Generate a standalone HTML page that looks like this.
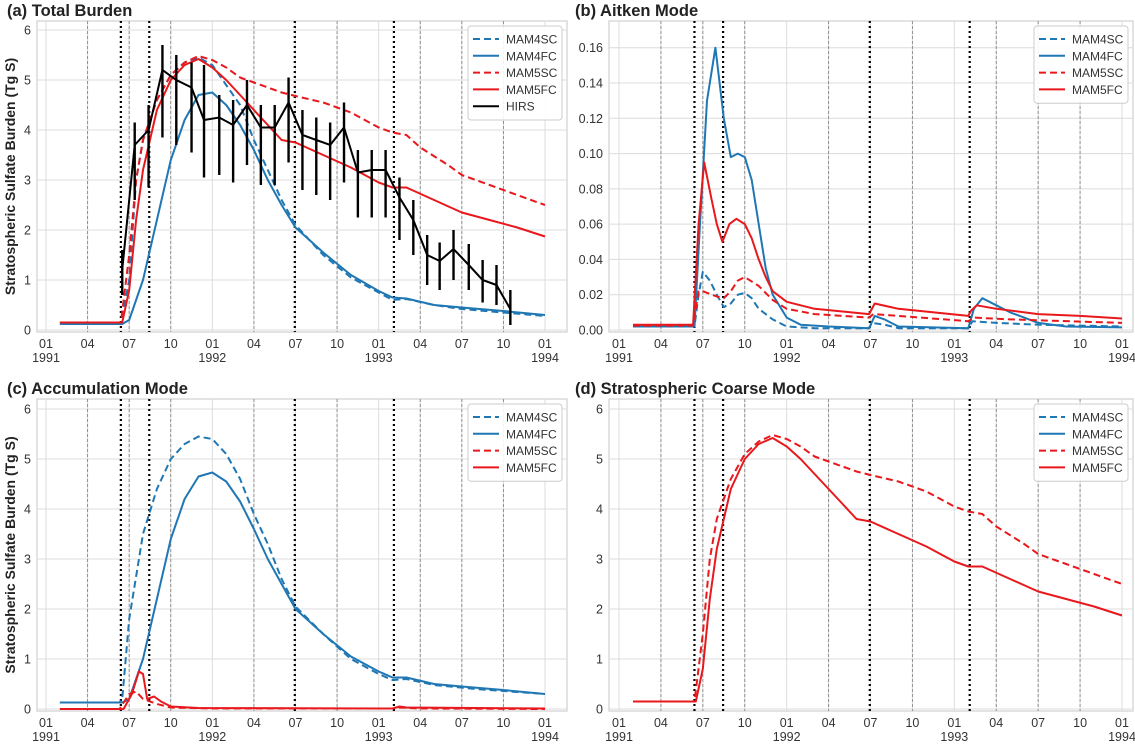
<!DOCTYPE html>
<html><head><meta charset="utf-8"><style>
body{margin:0;background:#fff;font-family:"Liberation Sans",sans-serif}
svg text{font-family:"Liberation Sans",sans-serif}
</style></head><body>
<svg id="fig" width="1135" height="741" viewBox="0 0 1135 741" xmlns="http://www.w3.org/2000/svg"></svg>
<script>
// ---- data (months since Jan 1991) ----
const tickMonths=[0,3,6,9,12,15,18,21,24,27,30,33,36];
const tickLabels=["01","04","07","10","01","04","07","10","01","04","07","10","01"];
const yearLabels={0:"1991",12:"1992",24:"1993",36:"1994"};
const dashedMonths=[3,6,9,15,21,27,30,33];
const dottedMonths=[5.4,7.45,17.95,25.1];

const a4scT=[1,5.4,6.0,6.5,7,8,9,10,11,12,13,14,15,16,17,18,19,20,22,24,25,26,28,30,33,36];
const a4scV=[0.15,0.15,1.0,3.0,3.8,4.6,5.1,5.35,5.45,5.3,4.9,4.5,3.8,3.2,2.6,2.1,1.8,1.5,1.05,0.75,0.6,0.62,0.5,0.42,0.35,0.28];
const a4fcT=[1,5.5,6,7,8,9,10,11,12,13,14,15,16,17,18,19,20,22,24,25,26,28,30,33,36];
const a4fcV=[0.12,0.12,0.2,1.0,2.2,3.4,4.2,4.7,4.75,4.5,4.1,3.6,3.0,2.5,2.05,1.8,1.55,1.1,0.78,0.65,0.63,0.5,0.45,0.38,0.3];
const a5scT=[1,5.4,6,6.5,7,8,9,10,11,12,13,14,15,16,17,18,20,22,24,25,26,27,29,30,32,34,36];
const a5scV=[0.15,0.15,1.5,3.0,3.8,4.6,5.1,5.35,5.48,5.4,5.25,5.05,4.95,4.85,4.75,4.68,4.55,4.35,4.05,3.95,3.9,3.65,3.3,3.1,2.9,2.7,2.5];
const a5fcT=[1,5.5,6,6.5,7,8,9,10,11,12,13,14,15,16,17,18,20,22,24,25,26,28,30,32,34,36];
const a5fcV=[0.15,0.15,0.8,2.2,3.2,4.4,5.0,5.3,5.42,5.25,5.0,4.7,4.4,4.1,3.8,3.75,3.5,3.25,2.95,2.85,2.85,2.6,2.35,2.2,2.05,1.87];
const hirsT=[5.5,6.4,7.4,8.4,9.4,10.5,11.4,12.5,13.5,14.5,15.5,16.5,17.5,18.5,19.5,20.5,21.5,22.5,23.5,24.5,25.5,26.5,27.5,28.4,29.4,30.5,31.5,32.5,33.5];
const hirsV=[1.2,3.7,4.0,5.2,5.0,4.85,4.2,4.25,4.1,4.5,4.05,4.05,4.55,3.9,3.8,3.7,4.05,3.15,3.2,3.2,2.65,2.2,1.5,1.38,1.62,1.3,1.0,0.9,0.42];
const hirsLo=[0.7,2.6,2.85,3.85,3.7,3.55,3.05,3.1,2.95,3.3,2.9,2.9,3.35,2.8,2.7,2.6,2.95,2.25,2.25,2.25,1.8,1.5,0.9,0.8,1.0,0.8,0.55,0.5,0.1];
const hirsHi=[1.6,4.15,4.5,5.7,5.5,5.35,5.3,4.7,4.6,5.0,4.5,4.5,5.05,4.4,4.25,4.15,4.55,3.6,3.6,3.6,3.05,2.6,1.9,1.75,2.0,1.72,1.4,1.3,0.8];

const b4scT=[1,5.4,5.7,6.0,6.5,7,7.5,8,8.5,9,9.5,10,11,12,14,17.9,18.1,19,20,25.0,25.3,27,30,36];
const b4scV=[0.002,0.002,0.02,0.033,0.028,0.02,0.013,0.015,0.02,0.021,0.018,0.012,0.006,0.002,0.001,0.001,0.004,0.003,0.001,0.001,0.005,0.004,0.003,0.002];
const b4fcT=[1,5.4,5.8,6.3,6.9,7.5,8,8.5,9,9.5,10,10.5,11,12,13,15,17.9,18.3,19,20,25,25.4,26,27,28,29,30,32,36];
const b4fcV=[0.002,0.002,0.06,0.13,0.16,0.12,0.098,0.1,0.098,0.085,0.06,0.035,0.02,0.007,0.003,0.002,0.001,0.008,0.006,0.002,0.001,0.012,0.018,0.014,0.01,0.007,0.004,0.002,0.0015];
const b5scT=[1,5.3,5.7,6,7,7.5,8,8.5,9,10,11,12,14,17.9,18.2,20,25,25.4,28,36];
const b5scV=[0.0025,0.0025,0.022,0.022,0.019,0.018,0.022,0.028,0.03,0.025,0.017,0.012,0.009,0.007,0.009,0.008,0.005,0.007,0.006,0.004];
const b5fcT=[1,5.3,5.7,6.1,6.6,7.0,7.4,7.9,8.4,9,9.5,10,10.5,11,12,14,17.9,18.3,20,25,25.2,25.6,27,30,33,36];
const b5fcV=[0.003,0.003,0.06,0.095,0.075,0.06,0.05,0.06,0.063,0.06,0.052,0.04,0.03,0.022,0.016,0.012,0.009,0.015,0.012,0.008,0.011,0.014,0.012,0.009,0.008,0.0065];

const c4scT=[1,5.3,5.5,6,7,8,9,10,11,12,13,14,15,16,17,18,20,22,24,25,26,28,31,36];
const c4scV=[0.13,0.13,0.2,1.8,3.5,4.4,5.0,5.3,5.45,5.4,5.1,4.6,3.9,3.3,2.6,2.05,1.5,1.0,0.7,0.58,0.6,0.48,0.4,0.3];
const c4fcT=[1,5.5,6,7,8,9,10,11,12,13,14,15,16,17,18,19,20,22,24,25,26,28,30,33,36];
const c4fcV=[0.13,0.13,0.2,1.0,2.2,3.4,4.2,4.65,4.73,4.55,4.15,3.6,3.0,2.5,2.0,1.75,1.5,1.05,0.75,0.63,0.63,0.5,0.45,0.38,0.3];
const c5scT=[1,5.3,6,6.5,7,8,9,12,25,25.5,27,36];
const c5scV=[0,0,0.3,0.35,0.2,0.1,0.03,0.01,0.01,0.03,0.01,0];
const c5fcT=[1,5.6,6.2,6.7,7,7.3,7.8,8.3,9,11,25,25.5,26,36];
const c5fcV=[0,0,0.3,0.75,0.7,0.2,0.25,0.15,0.05,0.02,0.01,0.05,0.03,0.01];
const legendNames=["MAM4SC","MAM4FC","MAM5SC","MAM5FC"];

const BLUE="#1f77b4", RED="#e8181c";
const svg=document.getElementById('fig');
const NS="http://www.w3.org/2000/svg";
function mk(tag,attrs,parent){const e=document.createElementNS(NS,tag);for(const k in attrs)e.setAttribute(k,attrs[k]);(parent||svg).appendChild(e);return e;}

function panel(P){
  const g=mk('g',{});
  
  
  const X=m=>P.x0+m*(P.x1-P.x0)/36;
  const Yv=v=>P.y0-(v/P.ymaxTick)*(P.y0-P.yt);
  const fr=mk('rect',{x:P.L,y:P.T,width:P.R-P.L,height:P.B-P.T,fill:'#fff',stroke:'#d0d0d0','stroke-width':1.2},g);
  
  P.yticks.forEach((v,i)=>{
    const y=Yv(v);
    mk('line',{x1:P.L,x2:P.R,y1:y,y2:y,stroke:'#dcdcdc','stroke-width':1},g);
    const t=mk('text',{x:P.L-6,y:y+4.5,'text-anchor':'end','font-size':12.5,fill:'#333'},g);
    t.textContent=P.ylabels[i];
    
  });
  tickMonths.forEach((m,i)=>{
    const x=X(m);
    mk('line',{x1:x,x2:x,y1:P.T,y2:P.B,stroke:'#dcdcdc','stroke-width':1},g);
    const t=mk('text',{x:x,y:P.B+16,'text-anchor':'middle','font-size':12.5,fill:'#333'},g);
    t.textContent=tickLabels[i];
    
    if(yearLabels[m]){const y=mk('text',{x:x,y:P.B+30,'text-anchor':'middle','font-size':12.5,fill:'#333'},g);y.textContent=yearLabels[m];
      }
  });
  dashedMonths.forEach(m=>mk('line',{x1:X(m),x2:X(m),y1:P.T,y2:P.B,stroke:'#888','stroke-width':0.9,'stroke-dasharray':'3,2'},g));
  dottedMonths.forEach(m=>{const l=mk('line',{x1:X(m),x2:X(m),y1:P.T,y2:P.B,stroke:'#000','stroke-width':2.2,'stroke-dasharray':'2,3'},g);
    });
  P.series.forEach(s=>{
    const d=s.t.map((m,i)=>(i?'L':'M')+X(m).toFixed(1)+','+Yv(s.v[i]).toFixed(1)).join('');
    const p=mk('path',{d:d,fill:'none',stroke:s.c,'stroke-width':2,'stroke-dasharray':s.dash?'7,4':'none','stroke-linejoin':'round'},g);
    
  });
  if(P.hirs){
    hirsT.forEach((m,i)=>{const l=mk('line',{x1:X(m),x2:X(m),y1:Yv(hirsLo[i]),y2:Yv(hirsHi[i]),stroke:'#000','stroke-width':2.4},g);
      });
    const d=hirsT.map((m,i)=>(i?'L':'M')+X(m).toFixed(1)+','+Yv(hirsV[i]).toFixed(1)).join('');
    const p=mk('path',{d:d,fill:'none',stroke:'#000','stroke-width':2},g);
    
  }
  const ti=mk('text',{x:P.L-30+P.tdx,y:P.T-5,'font-size':16.5,'font-weight':'bold',fill:'#222'},g);
  ti.textContent=P.title;
  if(P.ylab){const yl=mk('text',{x:0,y:0,transform:`translate(15,${(P.T+P.B)/2}) rotate(-90)`,'text-anchor':'middle','font-size':14,'font-weight':'bold',fill:'#222'},g);
    yl.textContent='Stratospheric Sulfate Burden (Tg S)';}
  const names=legendNames.concat(P.hirs?['HIRS']:[]);
  const cols=[BLUE,BLUE,RED,RED,'#000'], dashes=[1,0,1,0,0];
  const lx=P.R-99, ly=P.T+5, lh=names.length*16.8+10;
  const lg=mk('g',{},g);
  mk('rect',{x:lx,y:ly,width:94,height:lh,rx:3,fill:'#fff','fill-opacity':0.9,stroke:'#ccc'},lg);
  names.forEach((n,i)=>{
    const y=ly+13+i*16.8;
    const e=mk('g',{},lg);
    mk('line',{x1:lx+5,x2:lx+31,y1:y,y2:y,stroke:cols[i],'stroke-width':2,'stroke-dasharray':dashes[i]?'7,4':'none'},e);
    const t=mk('text',{x:lx+38,y:y+4.5,'font-size':12,fill:'#333'},e);t.textContent=n;
  });
}

panel({name:'panel-a-total-burden',title:'(a) Total Burden',tdx:0,L:37,R:567,T:21,B:332,x0:46,x1:545,y0:330,yt:30,ymaxTick:6,
  yticks:[0,1,2,3,4,5,6],ylabels:["0","1","2","3","4","5","6"],ylab:true,hirs:true,
  series:[{n:'mam4sc',t:a4scT,v:a4scV,c:BLUE,dash:1},{n:'mam4fc',t:a4fcT,v:a4fcV,c:BLUE},{n:'mam5sc',t:a5scT,v:a5scV,c:RED,dash:1},{n:'mam5fc',t:a5fcT,v:a5fcV,c:RED}]});
panel({name:'panel-b-aitken-mode',title:'(b) Aitken Mode',tdx:-4,L:609,R:1133,T:21,B:332,x0:619,x1:1122,y0:330,yt:47.7,ymaxTick:0.16,
  yticks:[0,0.02,0.04,0.06,0.08,0.10,0.12,0.14,0.16],ylabels:["0.00","0.02","0.04","0.06","0.08","0.10","0.12","0.14","0.16"],
  series:[{n:'mam4sc',t:b4scT,v:b4scV,c:BLUE,dash:1},{n:'mam4fc',t:b4fcT,v:b4fcV,c:BLUE},{n:'mam5sc',t:b5scT,v:b5scV,c:RED,dash:1},{n:'mam5fc',t:b5fcT,v:b5fcV,c:RED}]});
panel({name:'panel-c-accumulation-mode',title:'(c) Accumulation Mode',tdx:0,L:37,R:567,T:399,B:711,x0:46,x1:545,y0:709,yt:409,ymaxTick:6,
  yticks:[0,1,2,3,4,5,6],ylabels:["0","1","2","3","4","5","6"],ylab:true,
  series:[{n:'mam4sc',t:c4scT,v:c4scV,c:BLUE,dash:1},{n:'mam4fc',t:c4fcT,v:c4fcV,c:BLUE},{n:'mam5sc',t:c5scT,v:c5scV,c:RED,dash:1},{n:'mam5fc',t:c5fcT,v:c5fcV,c:RED}]});
panel({name:'panel-d-coarse-mode',title:'(d) Stratospheric Coarse Mode',tdx:-4,L:609,R:1133,T:399,B:711,x0:619,x1:1122,y0:709,yt:409,ymaxTick:6,
  yticks:[0,1,2,3,4,5,6],ylabels:["0","1","2","3","4","5","6"],
  series:[{n:'mam5sc',t:a5scT,v:a5scV,c:RED,dash:1},{n:'mam5fc',t:a5fcT,v:a5fcV,c:RED}]});
</script>
</body></html>
